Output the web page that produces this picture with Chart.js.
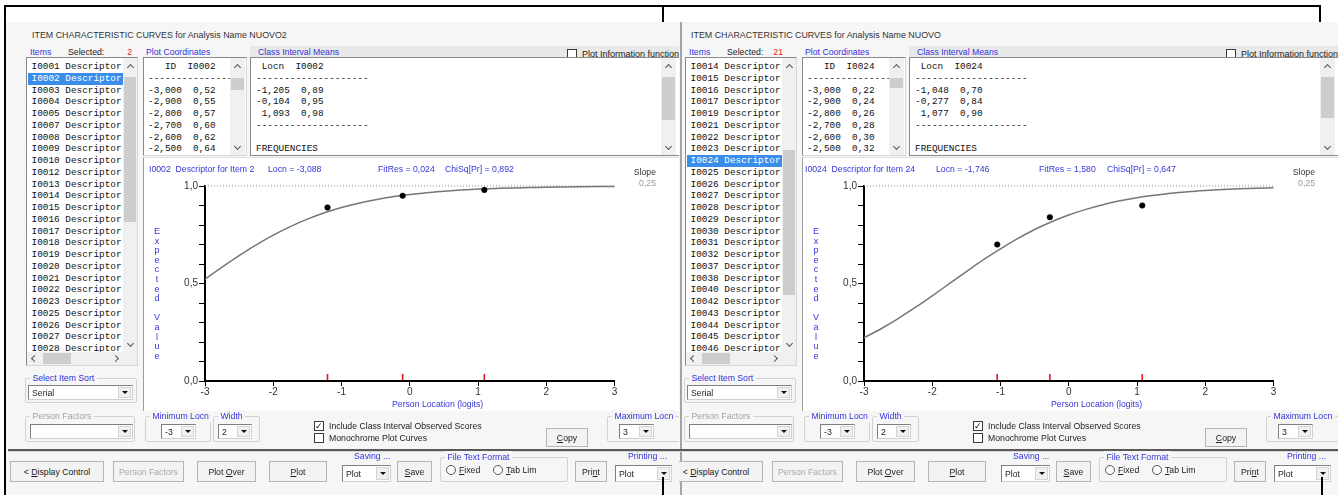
<!DOCTYPE html>
<html>
<head>
<meta charset="utf-8">
<title>Item Characteristic Curves</title>
<script src="https://cdn.jsdelivr.net/npm/chart.js@4.4.1/dist/chart.umd.min.js"></script>
<style>
  html, body { margin:0; padding:0; width:1338px; height:495px; overflow:hidden; background:#fff; }
  body { position:relative; font-family:'Liberation Sans', Arial, sans-serif; font-size:8.7px; color:#222; }
  .tx { position:absolute; white-space:pre; line-height:12px; height:12px; }
  .mono { font-family:'Liberation Mono','DejaVu Sans Mono',monospace; font-size:9.4px; color:#111; }
  .btn { display:flex; align-items:center; justify-content:center; background:#f3f3f3; border:1px solid #b4b4b4; white-space:nowrap; }
  .btn span { white-space:pre; }
  canvas { position:absolute; }
</style>
</head>
<body>
<script>
// ---------- data ----------
const itemsNuovo2 = ["I0001","I0002","I0003","I0004","I0005","I0007","I0008","I0009","I0010","I0012","I0013","I0014","I0015","I0016","I0017","I0018","I0019","I0020","I0021","I0022","I0023","I0025","I0026","I0027","I0028"];
const itemsNuovo  = ["I0014","I0015","I0016","I0017","I0019","I0021","I0022","I0023","I0024","I0025","I0026","I0027","I0028","I0029","I0030","I0031","I0032","I0037","I0038","I0040","I0042","I0043","I0044","I0045","I0046"];

// Plot Coordinates panel (first rows of the tabulated curve)
const coordLocn   = [-3.0, -2.9, -2.8, -2.7, -2.6, -2.5];
const coordNuovo2 = [0.52, 0.55, 0.57, 0.60, 0.62, 0.64];
const coordNuovo  = [0.22, 0.24, 0.26, 0.28, 0.30, 0.32];

// Expected value curves along person location (logits)
const curveLocn   = [-3,-2.75,-2.5,-2.25,-2,-1.75,-1.5,-1.25,-1,-0.75,-0.5,-0.25,0,0.25,0.5,0.75,1,1.25,1.5,1.75,2,2.25,2.5,2.75,3];
const curveNuovo2 = [0.522,0.584,0.643,0.698,0.748,0.792,0.830,0.863,0.890,0.912,0.930,0.945,0.956,0.966,0.973,0.979,0.984,0.987,0.990,0.992,0.994,0.995,0.996,0.997,0.998];
const curveNuovo  = [0.222,0.268,0.320,0.377,0.437,0.499,0.561,0.622,0.678,0.730,0.777,0.817,0.851,0.880,0.904,0.924,0.940,0.952,0.963,0.971,0.977,0.982,0.986,0.989,0.991];

// Class interval means: location and observed score
const ciLocnNuovo2 = [-1.205, -0.104, 1.093];
const ciObsNuovo2  = [0.89, 0.95, 0.98];
const ciLocnNuovo  = [-1.048, -0.277, 1.077];
const ciObsNuovo   = [0.70, 0.84, 0.90];

// Axes
const xTicks = [-3, -2, -1, 0, 1, 2, 3];
const yTicks = [0, 0.1, 0.2, 0.3, 0.4, 0.5, 0.6, 0.7, 0.8, 0.9, 1];
const yTickLabels = [0, 0.5, 1];
const asymptote = 1;

// ---------- helpers ----------
const FORM = '#f6f6f6';
const BLUE = '#3434dc';
const fmt = (v, d) => v.toFixed(d).replace('.', ',');

function el(p, x, y, w, h, css) {
  const d = document.createElement('div');
  d.style.cssText = `position:absolute;left:${x}px;top:${y}px;width:${w}px;height:${h}px;box-sizing:border-box;` + (css || '');
  p.appendChild(d);
  return d;
}
function tx(p, x, y, s, css, cls) {
  const d = document.createElement('div');
  d.className = 'tx' + (cls ? ' ' + cls : '');
  d.style.cssText = `left:${x}px;top:${y - 6}px;` + (css || '');
  d.textContent = s;
  p.appendChild(d);
  return d;
}
function txr(p, xr, y, s, css) {
  return tx(p, xr - 120, y, s, 'width:120px;text-align:right;' + (css || ''));
}
function chev(p, cx, cy, dir) {
  const r = { up: 45, down: 225, left: -45, right: 135 }[dir];
  const dy = dir === 'up' ? 1 : dir === 'down' ? -1 : 0;
  const dx = dir === 'left' ? 1 : dir === 'right' ? -1 : 0;
  el(p, cx - 2.5 + dx, cy - 2.5 + dy, 5, 5, `border-left:1.3px solid #555;border-top:1.3px solid #555;transform:rotate(${r}deg);`);
}
function vscroll(p, x, y, w, h, thumb) {
  el(p, x, y, w, h, 'background:#f0f0f0;');
  el(p, x + 1, thumb[0], w - 2, thumb[1] - thumb[0], 'background:#cdcdcd;');
  chev(p, x + w / 2, y + 8, 'up');
  chev(p, x + w / 2, y + h - 8, 'down');
}
function combo(p, x, y, w, h, label) {
  const b = el(p, x, y, w, h, 'background:#fff;border:1px solid #7f7f7f;border-right-color:#cfcfcf;border-bottom-color:#cfcfcf;');
  if (label) tx(b, 3, h / 2 - 1, label, '');
  const a = el(b, w - 16, 1, 13, h - 4, 'background:#f0f0f0;border:1px solid #d4d4d4;');
  el(a, 3, (h - 4) / 2 - 3, 0, 0, 'box-sizing:content-box;border-left:3px solid transparent;border-right:3px solid transparent;border-top:3.5px solid #111;');
}
function button(p, x, y, w, h, html, disabled) {
  const b = el(p, x, y, w, h, '');
  b.className = 'btn';
  b.innerHTML = '<span>' + html + '</span>';
  if (disabled) b.style.color = '#a9a9a9';
  return b;
}
function group(p, x, y, w, h, label, color) {
  el(p, x, y, w, h, 'border:1px solid #d2d2d2;border-radius:2px;');
  tx(p, x + 5, y, ' ' + label + ' ', `color:${color};background:${FORM};`);
}
function check(p, x, y, on) {
  const b = el(p, x, y, 10, 10, 'background:#fff;border:1px solid #3a3a3a;');
  if (on) tx(b, 0, 4, '\u2713', "font-family:'DejaVu Sans';font-size:9px;font-weight:bold;color:#111;");
}
function radio(p, x, y) {
  el(p, x, y, 10, 10, 'background:#fff;border:1px solid #555;border-radius:50%;');
}

// ---------- Item characteristic curve ----------
function drawCurve(canvas, curve, ciLocn, ciObs) {
  const ciMarks = {
    id: 'ciMarks',
    afterDatasetsDraw(chart) {
      const { ctx, scales: { x, y } } = chart;
      const y0 = y.getPixelForValue(0);
      ctx.save();
      ctx.strokeStyle = '#e3141b';
      ctx.lineWidth = 1.6;
      ciLocn.forEach(v => {
        const px = x.getPixelForValue(v);
        ctx.beginPath();
        ctx.moveTo(px, y0 - 1);
        ctx.lineTo(px, y0 - 7);
        ctx.stroke();
      });
      ctx.restore();
    }
  };
  const tickFont = { family: "'Liberation Sans', Arial, sans-serif", size: 10 };
  return new Chart(canvas, {
    type: 'scatter',
    data: {
      datasets: [
        { type: 'line', data: curveLocn.map((v, i) => ({ x: v, y: curve[i] })),
          borderColor: '#767676', borderWidth: 1.5, pointRadius: 0,
          cubicInterpolationMode: 'monotone', clip: false, order: 2 },
        { type: 'line', data: [{ x: xTicks[0], y: asymptote }, { x: xTicks[xTicks.length - 1], y: asymptote }],
          borderColor: '#8c8c8c', borderWidth: 1, borderDash: [1, 2], pointRadius: 0, clip: false, order: 3 },
        { type: 'scatter', data: ciLocn.map((v, i) => ({ x: v, y: ciObs[i] })),
          pointRadius: 2.8, backgroundColor: '#000', borderColor: '#000', borderWidth: 0.5, clip: false, order: 1 }
      ]
    },
    options: {
      responsive: false, animation: false, events: [],
      layout: { padding: { left: 0, right: 60.5, top: 28, bottom: 0 } },
      plugins: { legend: { display: false }, tooltip: { enabled: false } },
      scales: {
        x: {
          type: 'linear', min: xTicks[0], max: xTicks[xTicks.length - 1],
          afterFit: s => { s.height = 31; },
          afterBuildTicks: s => { s.ticks = xTicks.map(v => ({ value: v })); },
          ticks: { color: '#333', font: tickFont, padding: 0, maxRotation: 0, autoSkip: false, callback: v => String(v) },
          grid: { drawOnChartArea: false, drawTicks: true, tickLength: 5, color: '#000', tickColor: '#000', lineWidth: 1 },
          border: { display: true, color: '#000', width: 2 }
        },
        y: {
          type: 'linear', min: yTicks[0], max: yTicks[yTicks.length - 1],
          afterFit: s => { s.width = 62; },
          afterBuildTicks: s => { s.ticks = yTicks.map(v => ({ value: v })); },
          ticks: { color: '#333', font: tickFont, padding: 1, autoSkip: false,
            callback: v => yTickLabels.some(l => Math.abs(l - v) < 1e-9) ? fmt(v, 1) : '' },
          grid: { drawOnChartArea: false, drawTicks: true, tickLength: 6, color: '#000', tickColor: '#000', lineWidth: 1 },
          border: { display: true, color: '#000', width: 2 }
        }
      }
    },
    plugins: [ciMarks]
  });
}

// ---------- one analysis window ----------
function buildWindow(cfg) {
  const W = el(document.body, cfg.clipLeft, 0, cfg.clipWidth, 495, 'overflow:hidden;');
  const P = el(W, cfg.offset - cfg.clipLeft, 0, 700, 495, '');

  el(P, 6, 22, 694, 473, `background:${FORM};`);
  if (cfg.border) el(P, 21, 22, 2, 473, 'background:#a4a4a4;');

  tx(P, 32, 35, 'ITEM CHARACTERISTIC CURVES for Analysis Name ' + cfg.name, 'font-size:8.9px;color:#333;');

  // header row
  el(P, 250, 46, 440, 15, 'background:#e9e9e9;border-bottom:1px solid #b9b9b9;');
  tx(P, 30, 52, 'Items', `color:${BLUE};`);
  tx(P, 68, 52, 'Selected:', 'color:#222;');
  txr(P, cfg.countRight, 52, cfg.selected, 'color:#e02020;');
  tx(P, 146, 52, 'Plot Coordinates', `color:${BLUE};`);
  tx(P, 258, 52, 'Class Interval Means', `color:${BLUE};`);
  check(P, 567, 49, false);
  tx(P, 582, 54, 'Plot Information functions', 'color:#222;font-size:9px;');

  // item list
  const rowY = i => 67 + i * 11.75;
  el(P, 26, 57, 112, 309, 'background:#fff;border:1px solid #8a8a8a;border-right-color:#d8d8d8;border-bottom-color:#d8d8d8;');
  const rows = el(P, 27, 58, 96, 294, 'overflow:hidden;');
  cfg.items.forEach((id, i) => {
    const y = rowY(i) - 58;
    const label = id + ' Descriptor for Item ' + parseInt(id.slice(1), 10);
    if (i === cfg.sel) {
      el(rows, 1, y - 6, 95, 12, 'background:#3a8eea;');
      tx(rows, 4.5, y, label, 'color:#fff;', 'mono');
    } else {
      tx(rows, 4.5, y, label, '', 'mono');
    }
  });
  vscroll(P, 123, 58, 14, 294, cfg.thumb);
  el(P, 27, 352, 96, 13, 'background:#f0f0f0;');
  el(P, 43, 353, 28, 11, 'background:#cdcdcd;');
  chev(P, 33, 358.5, 'left');
  chev(P, 116, 358.5, 'right');
  el(P, 123, 352, 14, 13, 'background:#f0f0f0;');

  // plot coordinates panel
  el(P, 143, 57, 104, 99, 'background:#fff;border:1px solid #8a8a8a;border-right-color:#d8d8d8;border-bottom-color:#d8d8d8;');
  const pc = ['   ID  ' + cfg.itemId, '---------------'].concat(coordLocn.map((l, i) => fmt(l, 3) + '  ' + fmt(cfg.coord[i], 2)));
  pc.forEach((s, i) => tx(P, 148, rowY(i), s, '', 'mono'));
  vscroll(P, 230, 58, 15, 97, cfg.pcThumb);

  // class interval panel
  el(P, 250, 57, 440, 99, 'background:#fff;border:1px solid #8a8a8a;');
  const ci = [' Locn  ' + cfg.itemId, '--------------------']
    .concat(cfg.ciLocn.map((l, i) => fmt(l, 3).padStart(6, ' ') + '  ' + fmt(cfg.ciObs[i], 2)))
    .concat(['--------------------', '', 'FREQUENCIES']);
  ci.forEach((s, i) => tx(P, 256, rowY(i), s, '', 'mono'));
  vscroll(P, 661, 58, 15, 97, cfg.ciThumb);

  // plot panel
  el(P, 143, 157, 550, 254, 'background:#fff;border-left:1px solid #9c9c9c;border-top:1px solid #dedede;');
  const cv = document.createElement('canvas');
  cv.width = 532; cv.height = 254;
  cv.style.cssText = 'left:143px;top:158px;width:532px;height:254px;';
  P.appendChild(cv);
  drawCurve(cv, cfg.curve, cfg.ciLocn, cfg.ciObs);

  const h = cfg.head;
  tx(P, h[0], 169, cfg.itemId + '  Descriptor for Item ' + cfg.itemNo, `color:${BLUE};`);
  tx(P, h[1], 169, 'Locn = ' + cfg.locn, `color:${BLUE};`);
  tx(P, h[2], 169, 'FitRes = ' + cfg.fitRes, `color:${BLUE};`);
  tx(P, h[3], 169, 'ChiSq[Pr] = ' + cfg.chi, `color:${BLUE};`);
  txr(P, 656, 172, 'Slope', 'color:#333;');
  txr(P, 656, 183, '0,25', 'color:#9a9a9a;');
  'Expected Value'.split('').forEach((c, i) => {
    tx(P, 152, 231 + i * 9.6, c, `color:${BLUE};width:10px;text-align:center;font-size:9px;`);
  });
  tx(P, 392, 404, 'Person Location (logits)', `color:${BLUE};`);

  // sort selector
  group(P, 25, 378, 112, 25, 'Select Item Sort', BLUE);
  combo(P, 28, 385, 105, 15, 'Serial');

  // plot settings row
  group(P, 25, 416, 110, 26, 'Person Factors', '#a3a3a3');
  combo(P, 30, 424, 103, 15, '');
  group(P, 145, 416, 66, 26, 'Minimum Locn', BLUE);
  combo(P, 161, 424, 35, 15, '-3');
  group(P, 213, 416, 47, 26, 'Width', BLUE);
  combo(P, 218, 424, 34, 15, '2');
  check(P, 314, 421, true);
  tx(P, 329, 426, 'Include Class Interval Observed Scores', 'color:#222;');
  check(P, 314, 433, false);
  tx(P, 329, 438, 'Monochrome Plot Curves', 'color:#222;');
  button(P, 546, 428, 42, 19, '<u>C</u>opy');
  group(P, 607, 416, 90, 26, 'Maximum Locn', BLUE);
  combo(P, 619, 424, 35, 15, '3');

  // separator
  el(P, 8, 449, 690, 2, 'background:#5a5a5a;');
  el(P, 8, 451, 690, 1, 'background:#d6d6d6;');

  // command row
  button(P, 10, 461, 94, 21, '&lt; <u>D</u>isplay Control');
  button(P, 113, 461, 71, 21, 'Person Factors', true);
  button(P, 197, 461, 59, 21, 'Plot <u>O</u>ver');
  button(P, 269, 461, 58, 21, '<u>P</u>lot');
  tx(P, 354, 456, 'Saving ...', `color:${BLUE};`);
  combo(P, 342, 465, 49, 17, 'Plot');
  button(P, 397, 461, 35, 21, '<u>S</u>ave');
  group(P, 440, 457, 128, 25, 'File Text Format', BLUE);
  radio(P, 446, 465);
  tx(P, 459, 470, '', '').innerHTML = '<u>F</u>ixed';
  radio(P, 493, 465);
  tx(P, 506, 470, '', '').innerHTML = '<u>T</u>ab Lim';
  button(P, 575, 461, 32, 21, 'Pri<u>n</u>t');
  tx(P, 628, 456, 'Printing ...', `color:${BLUE};`);
  combo(P, 615, 465, 57, 17, 'Plot');
}

buildWindow({
  offset: 0, clipLeft: 0, clipWidth: 679, border: false, countRight: 132,
  name: 'NUOVO2', selected: '2', items: itemsNuovo2, sel: 1, thumb: [77, 222],
  itemId: 'I0002', itemNo: 2, locn: '-3,088', fitRes: '0,024', chi: '0,892',
  coord: coordNuovo2, curve: curveNuovo2, ciLocn: ciLocnNuovo2, ciObs: ciObsNuovo2,
  pcThumb: [78, 90], ciThumb: [77, 120], head: [149, 268, 378, 445]
});
buildWindow({
  offset: 659, clipLeft: 679, clipWidth: 659, border: true, countRight: 124,
  name: 'NUOVO', selected: '21', items: itemsNuovo, sel: 8, thumb: [150, 295],
  itemId: 'I0024', itemNo: 24, locn: '-1,746', fitRes: '1,580', chi: '0,647',
  coord: coordNuovo, curve: curveNuovo, ciLocn: ciLocnNuovo, ciObs: ciObsNuovo,
  pcThumb: [78, 88], ciThumb: [77, 118], head: [146, 277, 380, 448]
});

// outer frame
el(document.body, 5, 5, 1316, 2, 'background:#000;');
el(document.body, 4, 5, 2, 490, 'background:#000;');
el(document.body, 662, 5, 2, 17, 'background:#000;');
el(document.body, 1319, 5, 2, 17, 'background:#000;');
el(document.body, 662, 477, 2, 18, 'background:#000;');
el(document.body, 1321, 477, 2, 18, 'background:#000;');
</script>
</body>
</html>
